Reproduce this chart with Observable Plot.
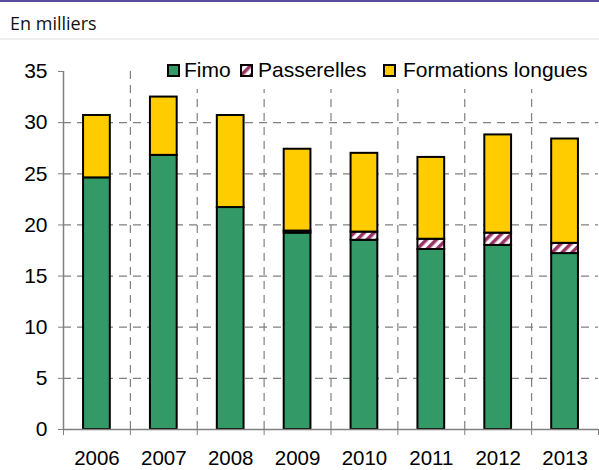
<!DOCTYPE html>
<html><head><meta charset="utf-8">
<script src="https://cdn.jsdelivr.net/npm/d3@7"></script>
<script src="https://cdn.jsdelivr.net/npm/@observablehq/plot@0.6"></script>
<style>
body{margin:0;background:#fff;width:599px;height:470px;overflow:hidden;position:relative;font-family:"Liberation Sans",Arial,sans-serif}
#topline{position:absolute;left:0;top:0;width:599px;height:2px;background:#5b4c9e}
#sep{position:absolute;left:0;top:38px;width:599px;height:2px;background:#efefef}
#unit{position:absolute;left:10px;top:14px;font-family:"Open Sans",sans-serif;font-size:18px;line-height:18px;color:#111}
#chart{position:absolute;left:0;top:40px}
#chart svg{overflow:visible}
#legend{position:absolute;left:162px;top:58px;width:436px;height:31px;background:#fff}
.lg{position:absolute;top:1px;font-size:21px;line-height:21px;color:#000;white-space:nowrap}
</style></head>
<body>
<div id="topline"></div>
<div id="unit">En milliers</div>
<div id="sep"></div>
<div id="chart"></div>
<div id="legend"></div>
<script>
const years = [2006, 2007, 2008, 2009, 2010, 2011, 2012, 2013];
const fimo = [24.6, 26.8, 21.7, 19.2, 18.5, 17.6, 18.0, 17.2];
const passerelles = [0, 0, 0, 0.2, 0.8, 1.0, 1.2, 1.0];
const formations = [6.1, 5.7, 9.0, 8.0, 7.7, 8.0, 9.6, 10.2];
const seriesNames = ["Fimo", "Passerelles", "Formations longues"];
const seriesColors = ["#339966", "url(#hatch)", "#FFCC00"];
const yTicks = [0, 5, 10, 15, 20, 25, 30, 35];
const gridTicks = [5, 10, 15, 20, 25, 30];

const seriesValues = [fimo, passerelles, formations];
const rows = [];
years.forEach((yr, i) => {
  let base = 0;
  seriesValues.forEach((vals, s) => {
    const v = vals[i];
    if (v > 0) rows.push({year: yr, series: seriesNames[s], y1: base, y2: base + v});
    base += v;
  });
});
const bounds = d3.range(years.length + 1).map(k => years[0] - 0.5 + k);
const innerBounds = bounds.slice(1, -1);

const font = "'Liberation Sans', Arial, sans-serif";
const plot = Plot.plot({
  width: 599,
  height: 430,
  marginTop: 31,
  marginBottom: 41,
  marginLeft: 63,
  marginRight: 1,
  style: {fontFamily: font, fontSize: "21px", color: "#000", background: "transparent", overflow: "visible"},
  x: {type: "linear", domain: [bounds[0], bounds[bounds.length - 1]]},
  y: {domain: [0, 35]},
  color: {type: "ordinal", domain: seriesNames, range: seriesColors},
  marks: [
    Plot.ruleY(gridTicks, {stroke: "#808080", strokeDasharray: "8,6", strokeWidth: 1.2}),
    Plot.ruleX(innerBounds, {y1: 0, y2: 35, stroke: "#808080", strokeDasharray: "8,6", strokeWidth: 1.2}),
    Plot.rect(rows, {x1: d => d.year - 0.2, x2: d => d.year + 0.2, y1: "y1", y2: "y2", fill: "series", stroke: "#000", strokeWidth: 2}),
    Plot.ruleX([bounds[0]], {y1: 0, y2: 35, stroke: "#808080", strokeWidth: 1.5}),
    Plot.ruleY([0], {stroke: "#808080", strokeWidth: 1.5}),
    Plot.axisY({ticks: yTicks, tickSize: 5, tickPadding: 11, fontSize: 21, stroke: "#808080", tickFormat: d => d, label: null}),
    Plot.axisX({ticks: bounds, tickSize: 6, tickFormat: () => "", stroke: "#808080", label: null}),
    Plot.axisX({ticks: years, tickSize: 0, tickPadding: 21, fontSize: 20.5, tickFormat: d => String(d), label: null})
  ]
});
const svg = d3.select(plot);
const defs = svg.insert("defs", ":first-child");
const pat = defs.append("pattern").attr("id", "hatch").attr("patternUnits", "userSpaceOnUse")
  .attr("width", 7).attr("height", 7).attr("patternTransform", "rotate(45)");
pat.append("rect").attr("width", 7).attr("height", 7).attr("fill", "#fff");
pat.append("rect").attr("width", 3.5).attr("height", 7).attr("fill", "#993366");
document.getElementById("chart").appendChild(plot);

// legend
const legendLeft = [5, 78, 221];
const textOffset = [17, 18, 20];
const legend = document.getElementById("legend");
seriesNames.forEach((name, i) => {
  const item = document.createElement("div");
  item.className = "lg";
  item.style.left = legendLeft[i] + "px";
  item.innerHTML = `<svg width="14" height="14" style="position:absolute;left:0;top:5px;overflow:visible"><rect x="1" y="1" width="11" height="11" fill="${seriesColors[i]}" stroke="#000" stroke-width="2"/></svg><span style="position:absolute;left:${textOffset[i]}px;top:0">${name}</span>`;
  legend.appendChild(item);
});
</script>
</body></html>
